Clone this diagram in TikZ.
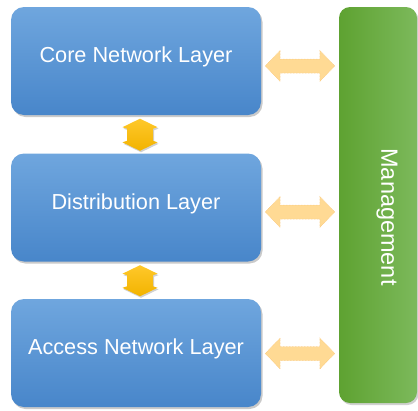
\documentclass[tikz,border=0pt]{standalone}
\usepackage{fontspec}
\setmainfont{Liberation Sans}
\usetikzlibrary{calc,shadows}
\definecolor{bluetop}{HTML}{6FA6DE}
\definecolor{bluebot}{HTML}{4886CA}
\definecolor{greenL}{HTML}{5EA231}
\definecolor{greenR}{HTML}{7CB95B}
\definecolor{goldtop}{HTML}{FFC82A}
\definecolor{goldbot}{HTML}{F2B300}
\definecolor{pale}{HTML}{FFDA94}
\definecolor{paleedge}{HTML}{F8C274}
\tikzset{
  layerbox/.style={rounded corners=13pt, minimum width=250pt, minimum height=108pt,
    top color=bluetop, bottom color=bluebot, draw=none,
    drop shadow={shadow xshift=1.5pt, shadow yshift=-2pt, opacity=0.35, fill=black!60}},
  layertext/.style={text=white, font=\fontsize{21.7}{24}\selectfont},
  mgmtbox/.style={rounded corners=11pt, minimum width=78pt, minimum height=396pt,
    left color=greenL, right color=greenR, draw=none,
    drop shadow={shadow xshift=1.5pt, shadow yshift=-2pt, opacity=0.3, fill=black!60}},
  harrow/.style={fill=pale, draw=paleedge, line width=0.5pt, densely dotted},
  varrow/.style={top color=goldtop, bottom color=goldbot, draw=none,
    drop shadow={shadow xshift=1pt, shadow yshift=-1.5pt, opacity=0.3, fill=black!60}}
}
\begin{document}
\begin{tikzpicture}[x=1pt,y=-1pt]
\useasboundingbox (0,0) rectangle (418,410);
\node[layerbox] (core) at (136,61) {};
\node[layerbox] (dist) at (136,207.5) {};
\node[layerbox] (access) at (136,353) {};
\node[mgmtbox] (mgmt) at (378,205) {};
\node[layertext] (coret) at ($(core)+(0,-4)$) {Core Network Layer};
\node[layertext] (distt) at ($(dist)+(0,-4)$) {Distribution Layer};
\node[layertext] (accesst) at ($(access)+(0,-4)$) {Access Network Layer};
\node[text=white, rotate=-90, font=\fontsize{23.5}{26}\selectfont] (mgmtt) at (387,217) {Management};
% horizontal double arrows
\foreach \src/\dy/\nm in {core/5/h1, dist/4.5/h2, access/0.5/h3}{
  \coordinate (\nm a) at ($(\src.east)+(4,\dy)$);
  \coordinate (\nm b) at ($(mgmt.west |- \src.east)+(-4,\dy)$);
  \path[harrow] (\nm a) -- ($(\nm a)+(15,-15.5)$) -- ($(\nm a)+(15,-7)$)
    -- ($(\nm b)+(-15,-7)$) -- ($(\nm b)+(-15,-15.5)$) -- (\nm b)
    -- ($(\nm b)+(-15,15.5)$) -- ($(\nm b)+(-15,7)$)
    -- ($(\nm a)+(15,7)$) -- ($(\nm a)+(15,15.5)$) -- cycle;
}
% vertical double arrows
\foreach \up/\dn/\nm in {core/dist/v1, dist/access/v2}{
  \coordinate (\nm t) at ($(\up.south)+(4,3.5)$);
  \coordinate (\nm b) at ($(\dn.north)+(4,-2.5)$);
  \path[varrow] (\nm t) -- ($(\nm t)+(17.5,8.5)$) -- ($(\nm t)+(13,10)$)
    -- ($(\nm b)+(13,-10)$) -- ($(\nm b)+(17.5,-8.5)$) -- (\nm b)
    -- ($(\nm b)+(-17.5,-8.5)$) -- ($(\nm b)+(-13,-10)$)
    -- ($(\nm t)+(-13,10)$) -- ($(\nm t)+(-17.5,8.5)$) -- cycle;
}
\end{tikzpicture}
\end{document}
